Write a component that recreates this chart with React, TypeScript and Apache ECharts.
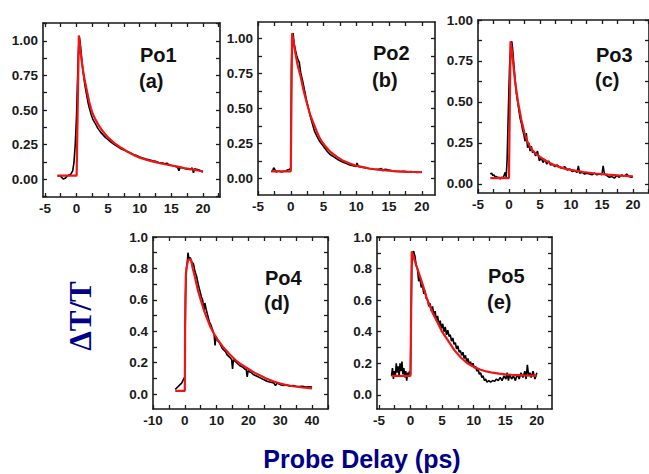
import { useEffect, useRef } from "react";
import * as echarts from "echarts";

type P = [number, number];

// ---------- data ----------
const po1Data: P[] = [[-3,0.02],[-2.7,0.025],[-2.4,0.015],[-2.1,0.0],[-1.8,0.005],[-1.5,0.02],[-1.2,0.03],[-0.9,0.035],[-0.6,0.06],[-0.4,0.12],[-0.2,0.25],[0,0.45],[0.15,0.7],[0.3,0.92],[0.45,1.03],[0.6,0.98],[0.8,0.88],[1,0.79],[1.2,0.72],[1.4,0.66],[1.6,0.61],[1.8,0.56],[2,0.52],[2.3,0.47],[2.6,0.43],[3,0.4],[3.4,0.365],[3.8,0.34],[4.2,0.32],[4.6,0.3],[5,0.285],[5.5,0.265],[6,0.25],[6.5,0.235],[7,0.22],[7.5,0.21],[8,0.2],[8.5,0.19],[9,0.178],[9.5,0.17],[10,0.16],[10.5,0.152],[11,0.145],[11.5,0.14],[12,0.132],[12.5,0.128],[13,0.12],[13.5,0.118],[14,0.11],[14.3,0.115],[14.6,0.105],[15,0.1],[15.5,0.095],[16,0.085],[16.2,0.06],[16.4,0.085],[16.8,0.08],[17.2,0.075],[17.6,0.072],[18,0.07],[18.3,0.08],[18.5,0.045],[18.7,0.075],[19,0.07],[19.4,0.065],[19.8,0.055],[20,0.05]];
const po1Fit: P[] = [[-3,0.025],[0.02,0.025],[0.37,1.04],[0.6,0.94],[0.8,0.86],[1,0.8],[1.2,0.74],[1.5,0.67],[2,0.56],[2.3,0.51],[2.5,0.48],[3,0.43],[3.5,0.39],[4,0.355],[5,0.3],[6,0.26],[7,0.228],[8,0.2],[9,0.175],[10,0.155],[11,0.14],[12,0.128],[13,0.117],[14,0.107],[15,0.098],[16,0.09],[17,0.08],[18,0.072],[19,0.064],[20,0.056]];

const po2Data: P[] = [[-3,0.05],[-2.8,0.05],[-2.6,0.075],[-2.4,0.06],[-2.2,0.045],[-2,0.05],[-1.7,0.05],[-1.4,0.045],[-1.1,0.05],[-0.8,0.05],[-0.5,0.06],[-0.2,0.065],[0,0.07],[0.05,0.4],[0.1,0.8],[0.2,1.0],[0.35,1.04],[0.5,0.97],[0.7,0.92],[0.9,0.88],[1.1,0.85],[1.3,0.83],[1.5,0.76],[1.8,0.7],[2.1,0.63],[2.4,0.56],[2.7,0.5],[3,0.44],[3.3,0.39],[3.6,0.34],[4,0.3],[4.4,0.265],[4.8,0.24],[5.2,0.215],[5.6,0.19],[6,0.17],[6.5,0.155],[7,0.14],[7.5,0.125],[8,0.115],[8.5,0.105],[9,0.095],[9.5,0.09],[10,0.085],[10.1,0.11],[10.3,0.085],[10.8,0.08],[11.3,0.075],[11.8,0.07],[12.3,0.068],[12.8,0.065],[13.3,0.063],[13.8,0.07],[14.1,0.055],[14.4,0.065],[14.8,0.06],[15.3,0.055],[15.8,0.05],[16.3,0.05],[16.8,0.048],[17.3,0.05],[17.8,0.045],[18.3,0.048],[18.8,0.045],[19.3,0.042],[19.8,0.045],[20,0.044]];
const po2Fit: P[] = [[-3,0.05],[0,0.05],[0.2,1.04],[0.5,0.95],[1,0.82],[1.5,0.73],[2,0.62],[2.5,0.53],[3,0.45],[3.5,0.39],[4,0.33],[4.5,0.28],[5,0.245],[6,0.19],[7,0.155],[8,0.125],[9,0.105],[10,0.09],[11,0.08],[12,0.07],[13,0.063],[14,0.058],[15,0.054],[16,0.05],[17,0.048],[18,0.046],[19,0.045],[20,0.044]];

const po3Data: P[] = [[-3,0.06],[-2.8,0.065],[-2.6,0.05],[-2.4,0.055],[-2.2,0.04],[-2,0.045],[-1.8,0.035],[-1.6,0.04],[-1.4,0.03],[-1.2,0.04],[-1,0.035],[-0.8,0.05],[-0.6,0.07],[-0.45,0.04],[-0.3,0.15],[-0.1,0.45],[0.1,0.72],[0.3,0.86],[0.45,0.87],[0.6,0.82],[0.8,0.72],[1,0.63],[1.2,0.55],[1.4,0.5],[1.6,0.45],[1.8,0.4],[2,0.37],[2.2,0.33],[2.4,0.3],[2.6,0.26],[2.8,0.31],[3,0.22],[3.2,0.25],[3.4,0.2],[3.6,0.23],[3.8,0.19],[4,0.2],[4.3,0.17],[4.6,0.2],[4.9,0.14],[5.2,0.16],[5.5,0.13],[5.8,0.15],[6.1,0.12],[6.4,0.14],[6.7,0.115],[7,0.12],[7.4,0.105],[7.8,0.115],[8.2,0.1],[8.6,0.095],[9,0.105],[9.4,0.085],[9.8,0.09],[10.2,0.075],[10.6,0.08],[11,0.07],[11.2,0.11],[11.4,0.065],[11.8,0.07],[12.2,0.06],[12.6,0.065],[13,0.06],[13.4,0.055],[13.8,0.065],[14.2,0.055],[14.6,0.06],[15,0.055],[15.2,0.11],[15.4,0.06],[15.8,0.05],[16.2,0.04],[16.6,0.045],[17,0.035],[17.4,0.05],[17.8,0.04],[18.2,0.055],[18.6,0.045],[19,0.06],[19.4,0.045],[19.8,0.04],[20,0.045]];
const po3Fit: P[] = [[-3,0.035],[0,0.035],[0.25,0.87],[0.5,0.8],[1,0.62],[1.5,0.49],[2,0.39],[2.5,0.31],[3,0.255],[3.5,0.22],[4,0.195],[5,0.165],[6,0.14],[7,0.12],[8,0.105],[9,0.093],[10,0.085],[12,0.072],[14,0.063],[16,0.056],[18,0.05],[20,0.045]];

const po4Data: P[] = [[-3,0.03],[-2.5,0.04],[-2,0.05],[-1.5,0.06],[-1,0.07],[-0.5,0.09],[0,0.11],[0.2,0.6],[0.4,0.78],[0.7,0.82],[1,0.9],[1.3,0.86],[1.7,0.87],[2.2,0.84],[2.7,0.83],[3.2,0.78],[3.7,0.75],[4.2,0.7],[4.7,0.66],[5.2,0.62],[5.6,0.6],[6,0.53],[6.3,0.58],[6.7,0.54],[7.2,0.5],[7.7,0.46],[8.2,0.44],[8.7,0.41],[9.2,0.38],[9.5,0.31],[9.8,0.37],[10.3,0.34],[10.8,0.33],[11.3,0.31],[11.8,0.29],[12.3,0.28],[12.8,0.27],[13.3,0.25],[13.8,0.24],[14.3,0.23],[14.7,0.22],[15,0.16],[15.3,0.22],[15.8,0.21],[16.3,0.2],[16.8,0.19],[17.3,0.18],[17.8,0.175],[18.3,0.17],[18.8,0.16],[19.3,0.155],[19.6,0.11],[19.9,0.15],[20.5,0.14],[21,0.135],[21.5,0.125],[22,0.12],[23,0.11],[24,0.1],[25,0.09],[26,0.08],[27,0.075],[28,0.07],[28.5,0.055],[29,0.07],[30,0.06],[31,0.055],[32,0.06],[33,0.05],[34,0.055],[35,0.05],[36,0.048],[37,0.05],[38,0.045],[39,0.047],[40,0.045]];
const po4Fit: P[] = [[-3,0.02],[0,0.02],[0.1,0.45],[0.3,0.74],[0.5,0.8],[1,0.85],[1.5,0.86],[2,0.85],[2.5,0.8],[3,0.76],[4,0.67],[5,0.6],[6,0.535],[7,0.48],[8,0.43],[9,0.39],[10,0.355],[12,0.3],[14,0.255],[16,0.215],[18,0.185],[20,0.16],[22,0.135],[24,0.115],[26,0.095],[28,0.08],[30,0.067],[32,0.057],[34,0.05],[37,0.042],[40,0.036]];

const po5Data: P[] = [[-3,0.12],[-2.85,0.17],[-2.7,0.1],[-2.55,0.15],[-2.4,0.12],[-2.25,0.2],[-2.1,0.14],[-1.95,0.18],[-1.8,0.12],[-1.65,0.2],[-1.5,0.15],[-1.35,0.21],[-1.2,0.13],[-1.05,0.17],[-0.9,0.11],[-0.75,0.15],[-0.6,0.09],[-0.45,0.14],[-0.3,0.12],[-0.15,0.15],[0,0.13],[0.1,0.5],[0.2,0.82],[0.35,0.9],[0.5,0.91],[0.7,0.88],[0.9,0.82],[1.1,0.8],[1.3,0.72],[1.5,0.74],[1.7,0.68],[1.9,0.7],[2.1,0.64],[2.3,0.66],[2.5,0.61],[2.7,0.6],[2.9,0.56],[3.1,0.58],[3.3,0.53],[3.5,0.56],[3.7,0.5],[3.9,0.53],[4.1,0.47],[4.3,0.5],[4.5,0.44],[4.7,0.47],[4.9,0.42],[5.1,0.45],[5.3,0.4],[5.5,0.43],[5.7,0.38],[5.9,0.41],[6.1,0.37],[6.3,0.38],[6.5,0.34],[6.7,0.36],[6.9,0.32],[7.1,0.33],[7.3,0.29],[7.5,0.31],[7.7,0.27],[7.9,0.28],[8.1,0.25],[8.3,0.27],[8.5,0.23],[8.7,0.25],[8.9,0.21],[9.1,0.23],[9.3,0.19],[9.5,0.21],[9.7,0.18],[9.9,0.2],[10.1,0.17],[10.3,0.18],[10.5,0.15],[10.7,0.16],[10.9,0.13],[11.1,0.14],[11.3,0.11],[11.5,0.12],[11.7,0.09],[11.9,0.1],[12.1,0.08],[12.4,0.09],[12.7,0.08],[13,0.09],[13.3,0.085],[13.6,0.1],[13.9,0.09],[14.2,0.11],[14.5,0.09],[14.8,0.12],[15.1,0.1],[15.3,0.14],[15.5,0.09],[15.7,0.13],[16,0.1],[16.3,0.12],[16.6,0.09],[16.9,0.13],[17.2,0.1],[17.5,0.14],[17.8,0.11],[18.1,0.15],[18.3,0.1],[18.5,0.19],[18.7,0.12],[18.9,0.14],[19.1,0.11],[19.4,0.15],[19.7,0.1],[20,0.14]];
const po5Fit: P[] = [[-3,0.12],[0,0.12],[0.2,0.91],[0.5,0.87],[1,0.81],[1.5,0.75],[2,0.69],[2.5,0.62],[3,0.57],[3.5,0.52],[4,0.48],[4.5,0.44],[5,0.4],[6,0.34],[7,0.28],[8,0.235],[9,0.2],[10,0.178],[11,0.16],[12,0.148],[13,0.14],[14,0.134],[15,0.13],[16,0.127],[17,0.125],[18,0.123],[20,0.12]];

const xLabels20 = [-5, 0, 5, 10, 15, 20];
const xTicks20 = [-5, -2.5, 0, 2.5, 5, 7.5, 10, 12.5, 15, 17.5, 20, 22.5];
const xLabels40 = [-10, 0, 10, 20, 30, 40];
const xTicks40 = [-10, -5, 0, 5, 10, 15, 20, 25, 30, 35, 40, 45];
const yLabelsQ = [0, 0.25, 0.5, 0.75, 1];
const yTicksQ = [-0.125, 0, 0.125, 0.25, 0.375, 0.5, 0.625, 0.75, 0.875, 1, 1.125];
const yLabelsT = [0, 0.2, 0.4, 0.6, 0.8, 1];
const yTicksT = [-0.1, 0, 0.1, 0.2, 0.3, 0.4, 0.5, 0.6, 0.7, 0.8, 0.9, 1];

const panelNames = ["Po1", "Po2", "Po3", "Po4", "Po5"];
const panelLetters = ["(a)", "(b)", "(c)", "(d)", "(e)"];
const yTitle = "ΔT/T";
const xTitle = "Probe Delay (ps)";

// ---------- layout ----------
const panels = [
  { data: po1Data, fit: po1Fit, left: 43, top: 23, width: 177, height: 174, xMin: -5.3, xMax: 22.7, yMin: -0.13, yMax: 1.13, xl: xLabels20, xt: xTicks20, yl: yLabelsQ, yt: yTicksQ, dec: 2, tx: 140, ty1: 55, ty2: 81 },
  { data: po2Data, fit: po2Fit, left: 258, top: 22, width: 177, height: 173, xMin: -5, xMax: 22, yMin: -0.12, yMax: 1.12, xl: xLabels20, xt: xTicks20, yl: yLabelsQ, yt: yTicksQ, dec: 2, tx: 373, ty1: 53, ty2: 80 },
  { data: po3Data, fit: po3Fit, left: 478, top: 20, width: 177, height: 173, xMin: -5, xMax: 22.6, yMin: -0.056, yMax: 1.0, xl: xLabels20, xt: xTicks20, yl: yLabelsQ, yt: yTicksQ, dec: 2, tx: 596, ty1: 55, ty2: 80 },
  { data: po4Data, fit: po4Fit, left: 153, top: 237, width: 175, height: 172, xMin: -10, xMax: 45, yMin: -0.095, yMax: 1.0, xl: xLabels40, xt: xTicks40, yl: yLabelsT, yt: yTicksT, dec: 1, tx: 265, ty1: 278, ty2: 303 },
  { data: po5Data, fit: po5Fit, left: 377, top: 237, width: 175, height: 172, xMin: -5.3, xMax: 22.4, yMin: -0.09, yMax: 1.0, xl: xLabels20, xt: xTicks20, yl: yLabelsT, yt: yTicksT, dec: 1, tx: 488, ty1: 276, ty2: 302 },
];

const AX = "#1a1a1a";
const FONT = '"Liberation Sans", Arial, sans-serif';

function buildOption() {
  const grid: any[] = [];
  const xAxis: any[] = [];
  const yAxis: any[] = [];
  const series: any[] = [];
  const graphic: any[] = [];

  panels.forEach((p, i) => {
    grid.push({ left: p.left, top: p.top, width: p.width, height: p.height, containLabel: false });
    const line = { show: true, onZero: false, lineStyle: { color: AX, width: 1.6 } };
    const lab = (vals: number[], dec: number) => ({
      show: true,
      customValues: vals,
      margin: 4,
      fontSize: 13.5,
      fontWeight: "bold",
      fontFamily: FONT,
      color: AX,
      formatter: (v: number) => Number(v).toFixed(dec),
    });
    const tick = (vals: number[]) => ({ show: true, inside: true, length: 4, customValues: vals, lineStyle: { color: AX, width: 1.3 } });
    xAxis.push({ type: "value", gridIndex: i, position: "bottom", min: p.xMin, max: p.xMax, axisLine: line, axisTick: tick(p.xt), axisLabel: lab(p.xl, 0), splitLine: { show: false } });
    xAxis.push({ type: "value", gridIndex: i, position: "top", min: p.xMin, max: p.xMax, axisLine: line, axisTick: tick(p.xt), axisLabel: { show: false }, splitLine: { show: false } });
    yAxis.push({ type: "value", gridIndex: i, position: "left", min: p.yMin, max: p.yMax, axisLine: line, axisTick: tick(p.yt), axisLabel: { ...lab(p.yl, p.dec), margin: 5 }, splitLine: { show: false } });
    yAxis.push({ type: "value", gridIndex: i, position: "right", min: p.yMin, max: p.yMax, axisLine: line, axisTick: tick(p.yt), axisLabel: { show: false }, splitLine: { show: false } });

    series.push({ type: "line", xAxisIndex: 2 * i, yAxisIndex: 2 * i, data: p.data, showSymbol: false, symbol: "none", lineStyle: { color: "#000", width: 1.6 }, z: 2 });
    series.push({ type: "line", xAxisIndex: 2 * i, yAxisIndex: 2 * i, data: p.fit, showSymbol: false, symbol: "none", smooth: false, lineStyle: { color: "#f01414", width: 2.2 }, z: 3 });

    graphic.push({ type: "text", x: p.tx, y: p.ty1, style: { text: panelNames[i], font: `bold 20px ${FONT}`, fill: "#111", align: "left", verticalAlign: "middle" } });
    graphic.push({ type: "text", x: p.tx - 1, y: p.ty2, style: { text: panelLetters[i], font: `bold 20px ${FONT}`, fill: "#111", align: "left", verticalAlign: "middle" } });
  });

  graphic.push({ type: "text", x: 80, y: 316, rotation: Math.PI / 2, style: { text: yTitle, font: `bold 31px "Liberation Serif", "Times New Roman", serif`, fill: "#000088", align: "center", verticalAlign: "middle" } });
  graphic.push({ type: "text", x: 362, y: 459, style: { text: xTitle, font: `bold 25px ${FONT}`, fill: "#000088", align: "center", verticalAlign: "middle" } });

  return { animation: false, backgroundColor: "#fff", grid, xAxis, yAxis, series, graphic };
}

export default function App() {
  const ref = useRef<HTMLDivElement>(null);
  useEffect(() => {
    if (!ref.current) return;
    const chart = echarts.init(ref.current, undefined, { renderer: "svg" });
    chart.setOption(buildOption() as any);
    return () => chart.dispose();
  }, []);
  return <div ref={ref} style={{ position: "absolute", left: 0, top: 0, width: 649, height: 474, background: "#fff" }} />;
}
